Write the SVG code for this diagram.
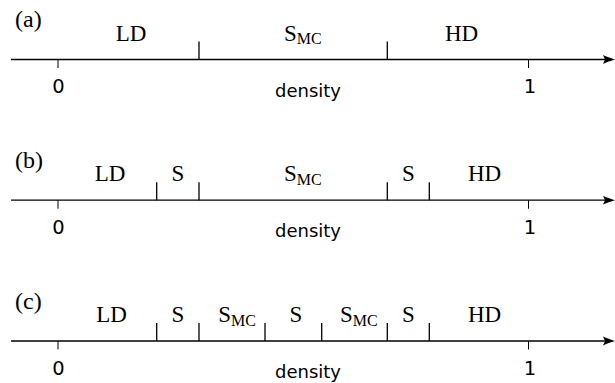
<svg xmlns="http://www.w3.org/2000/svg" width="615" height="383" viewBox="0 0 615 383">
<style>
.rm{font-family:"Liberation Serif","Times New Roman",serif;font-size:23px;fill:#000}
.par{font-size:24px}
.sub{font-size:16px}
.sf{font-family:"DejaVu Sans","Liberation Sans",sans-serif;font-size:18px;fill:#000}
.dg{font-size:19.5px}
.mid{text-anchor:middle}
.axis{stroke:#000;stroke-width:1.3;fill:none;marker-end:url(#arr)}
.tk{stroke:#000;stroke-width:1.3;fill:none}
.tk0{stroke:#000;stroke-width:1;fill:none}
</style>
<defs>
<marker id="arr" markerUnits="userSpaceOnUse" markerWidth="14" markerHeight="10" viewBox="-10 -5 14 10" refX="0" refY="0" orient="auto">
<path d="M3,0 C-1,-1 -6,-3 -9,-4.4 L-7,0 L-9,4.4 C-6,3 -1,1 3,0 Z" fill="#000"/>
</marker>
</defs>
<g id="connectors">
<line class="axis" x1="11" y1="59.5" x2="612" y2="59.5"/>
<line class="axis" x1="11" y1="200.2" x2="612" y2="200.2"/>
<line class="axis" x1="11" y1="341" x2="612" y2="341"/>
</g>
<g id="panel-a">
<text class="rm par" x="15" y="27">(a)</text>
<path class="tk0" d="M58,59.5V68M528.5,59.5V68"/>
<path class="tk" d="M199,41.5V59.5M387.3,41.5V59.5"/>
<text class="rm mid" x="131" y="40.5">LD</text>
<text class="rm" x="284" y="40.5">S<tspan class="sub" dy="3.5">MC</tspan></text>
<text class="rm mid" x="461.5" y="40.5">HD</text>
<text class="sf dg mid" x="58.5" y="93">0</text>
<text class="sf dg mid" x="530" y="93">1</text>
<text class="sf mid" x="308" y="96.5">density</text>
</g>
<g id="panel-b">
<text class="rm par" x="15" y="167.7">(b)</text>
<path class="tk0" d="M58,200.2V208.7M528.5,200.2V208.7"/>
<path class="tk" d="M156.7,182.2V200.2M199,182.2V200.2M387.3,182.2V200.2M429.3,182.2V200.2"/>
<text class="rm mid" x="110" y="181.2">LD</text>
<text class="rm mid" x="177.8" y="181.2">S</text>
<text class="rm" x="284" y="181.2">S<tspan class="sub" dy="3.5">MC</tspan></text>
<text class="rm mid" x="408.3" y="181.2">S</text>
<text class="rm mid" x="484.5" y="181.2">HD</text>
<text class="sf dg mid" x="58.5" y="234">0</text>
<text class="sf dg mid" x="530" y="234">1</text>
<text class="sf mid" x="308" y="237.2">density</text>
</g>
<g id="panel-c">
<text class="rm par" x="15" y="308.5">(c)</text>
<path class="tk0" d="M58,341V349.5M528.5,341V349.5"/>
<path class="tk" d="M156.7,323V341M199,323V341M265,323V341M321.7,323V341M387.3,323V341M429.3,323V341"/>
<text class="rm mid" x="111.5" y="322">LD</text>
<text class="rm mid" x="177.8" y="322">S</text>
<text class="rm" x="218.3" y="322">S<tspan class="sub" dy="3.5">MC</tspan></text>
<text class="rm mid" x="296" y="322">S</text>
<text class="rm" x="340" y="322">S<tspan class="sub" dy="3.5">MC</tspan></text>
<text class="rm mid" x="408.3" y="322">S</text>
<text class="rm mid" x="484.5" y="322">HD</text>
<text class="sf dg mid" x="58.5" y="375">0</text>
<text class="sf dg mid" x="530" y="375">1</text>
<text class="sf mid" x="308" y="377.5">density</text>
</g>
</svg>
